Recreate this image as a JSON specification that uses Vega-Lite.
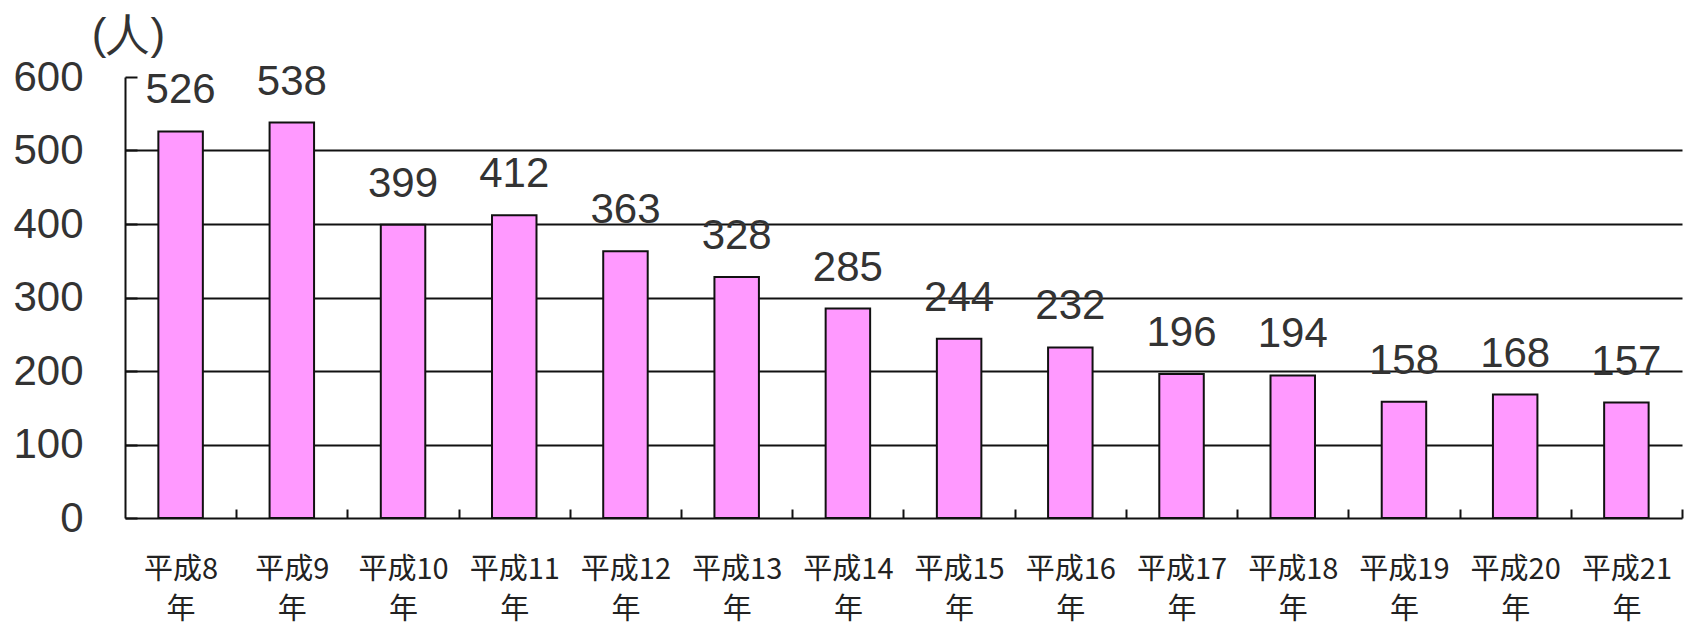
{
  "$schema": "https://vega.github.io/schema/vega-lite/v6.json",
  "autosize": "none",
  "width": 1557,
  "height": 441,
  "padding": {"left": 125, "top": 77, "right": 14, "bottom": 112},
  "background": "white",
  "data": {
    "values": [
      {"year": "平成8年", "value": 526},
      {"year": "平成9年", "value": 538},
      {"year": "平成10年", "value": 399},
      {"year": "平成11年", "value": 412},
      {"year": "平成12年", "value": 363},
      {"year": "平成13年", "value": 328},
      {"year": "平成14年", "value": 285},
      {"year": "平成15年", "value": 244},
      {"year": "平成16年", "value": 232},
      {"year": "平成17年", "value": 196},
      {"year": "平成18年", "value": 194},
      {"year": "平成19年", "value": 158},
      {"year": "平成20年", "value": 168},
      {"year": "平成21年", "value": 157}
    ]
  },
  "encoding": {
    "x": {
      "field": "year",
      "type": "nominal",
      "sort": null,
      "scale": {"paddingInner": 0.6, "paddingOuter": 0.3},
      "axis": {
        "title": null,
        "labelAngle": 0,
        "labelExpr": "isValid(datum.value) ? [replace(datum.value, '年', ''), '年'] : ''",
        "labelFont": "Noto Sans CJK JP",
        "labelFontSize": 29,
        "labelLineHeight": 40,
        "labelColor": "#222",
        "labelBaseline": "top",
        "labelPadding": 46,
        "ticks": true,
        "tickOffset": 55.6,
        "labelOffset": -55.6,
        "tickSize": -9,
        "tickWidth": 2,
        "tickColor": "#111",
        "domainColor": "#111",
        "domainWidth": 2,
        "grid": false
      }
    },
    "y": {
      "field": "value",
      "type": "quantitative",
      "scale": {"domain": [0, 600], "nice": false},
      "axis": {
        "title": "(人)",
        "titleAngle": 0,
        "titleX": 3,
        "titleY": -42,
        "titleAlign": "center",
        "titleBaseline": "middle",
        "titleFont": "Liberation Sans",
        "titleFontSize": 44,
        "titleFontWeight": "normal",
        "titleColor": "#333",
        "values": [0, 100, 200, 300, 400, 500, 600],
        "labelFont": "Liberation Sans",
        "labelFontSize": 42,
        "labelColor": "#333",
        "labelPadding": 54,
        "tickSize": -12,
        "tickWidth": 2,
        "tickColor": "#111",
        "domainColor": "#111",
        "domainWidth": 2,
        "grid": true,
        "gridColor": "#111",
        "gridWidth": 2,
        "gridOpacity": {"condition": {"test": "datum.value >= 600 || datum.value <= 0", "value": 0}, "value": 1}
      }
    }
  },
  "layer": [
    {
      "mark": {"type": "bar", "color": "#FF99FF", "stroke": "#111", "strokeWidth": 2}
    },
    {
      "mark": {
        "type": "text",
        "dy": -28,
        "baseline": "alphabetic",
        "font": "Liberation Sans",
        "fontSize": 42,
        "color": "#333"
      },
      "encoding": {"text": {"field": "value", "type": "quantitative"}}
    }
  ],
  "config": {"view": {"stroke": null}}
}
